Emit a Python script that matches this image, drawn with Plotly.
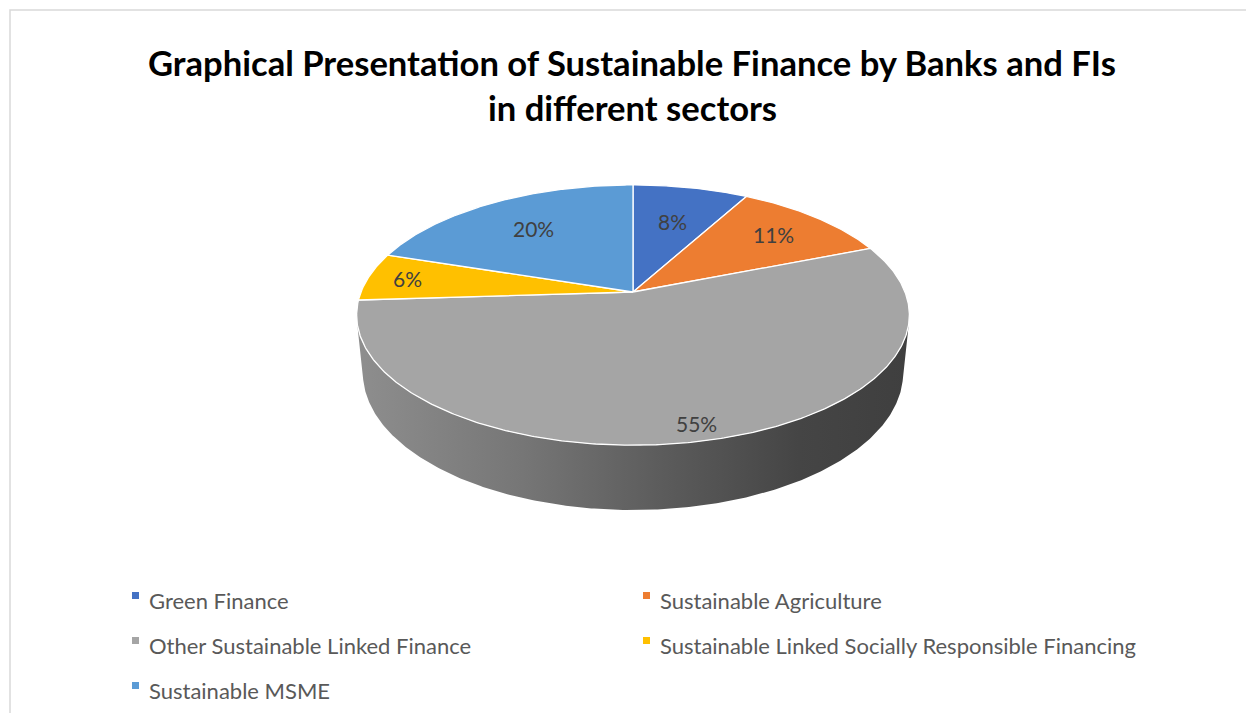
import numpy as np
import plotly.graph_objects as go

# ---- data ----
categories = [
    "Green Finance",
    "Sustainable Agriculture",
    "Other Sustainable Linked Finance",
    "Sustainable Linked Socially Responsible Financing",
    "Sustainable MSME",
]
shares = [8, 11, 55, 6, 20]
colors = ["#4472C4", "#ED7D31", "#A5A5A5", "#FFC000", "#5B9BD5"]
title_lines = [
    "Graphical Presentation of Sustainable Finance by Banks and FIs",
    "in different sectors",
]

# ---- styling / geometry of the 3-D disc ----
W, H_PX = 1246, 713
CX, CY = 633.0, 292.0          # screen position of the disc centre (top face)
FOCAL = 1360.0                 # perspective focal length (px per unit radius at unit depth)
DIST = 5.0                     # camera distance in disc radii
ELEV = np.arcsin(0.4634)       # camera elevation
THICK = 0.2416                 # disc thickness in radii
label_radius = [0.64, 0.75, 0.9, 0.85, 0.68]   # label placement along each slice's mid-angle
FONT = "Lato"


def project(phi_deg, r=1.0, h=0.0):
    """Project a point of the disc (angle clockwise from the back, radius r, depth h) to screen px."""
    phi = np.radians(phi_deg)
    X = r * np.sin(phi)
    Z = -r * np.cos(phi)          # +Z points towards the viewer
    depth = DIST + h * np.sin(ELEV) - Z * np.cos(ELEV)
    x = CX + FOCAL * X / depth
    y = CY + FOCAL * (h * np.cos(ELEV) + Z * np.sin(ELEV)) / depth
    return x, y


fig = go.Figure()

# ---- side wall (only the front part of the cylinder faces the camera) ----
lim = np.degrees(np.arccos(-1.0 / (DIST * np.cos(ELEV))))
front = np.linspace(lim, 360 - lim, 300)
tx, ty = project(front)
bx, by = project(front[::-1], h=THICK)
fig.add_trace(go.Scatter(
    x=np.concatenate([tx, bx]), y=np.concatenate([ty, by]),
    mode="lines", fill="toself", line=dict(width=0),
    fillgradient=dict(
        type="horizontal",
        colorscale=[[0, "#8e8e8e"], [0.3, "#767676"], [0.55, "#5c5c5c"],
                    [0.8, "#454545"], [1, "#3f3f3f"]],
    ),
    hoverinfo="skip", showlegend=False,
))

# ---- top face slices ----
total = sum(shares)
start = 0.0
for name, val, col, lr in zip(categories, shares, colors, label_radius):
    a0 = 360 * start / total
    a1 = 360 * (start + val) / total
    arc = np.linspace(a0, a1, max(int((a1 - a0) * 2), 8))
    ax_, ay_ = project(arc)
    xs = np.concatenate([[CX], ax_, [CX]])
    ys = np.concatenate([[CY], ay_, [CY]])
    fig.add_trace(go.Scatter(
        x=xs, y=ys, mode="lines", fill="toself", fillcolor=col,
        line=dict(color="white", width=1.3),
        name=name, hoverinfo="name", showlegend=False,
    ))
    lx, ly = project((a0 + a1) / 2, r=lr)
    fig.add_annotation(
        x=lx, y=ly, text=f"{val}%", showarrow=False,
        xanchor="center", yanchor="middle",
        font=dict(family=FONT, size=21, color="#404040"),
    )
    start += val

# ---- title ----
for i, line in enumerate(title_lines):
    fig.add_annotation(
        x=632, y=62 + 45 * i, text=f"<b>{line}</b>", showarrow=False,
        xanchor="center", yanchor="middle",
        font=dict(family=FONT, size=34.6, color="#000000"),
    )

# ---- legend (two columns) ----
col_x = [132, 643]
row_y = [596, 641, 686]
for i, (name, col) in enumerate(zip(categories, colors)):
    x0 = col_x[i % 2]
    y0 = row_y[i // 2]
    fig.add_shape(type="rect", x0=x0, x1=x0 + 7, y0=y0 - 4, y1=y0 + 3,
                  fillcolor=col, line=dict(width=0))
    fig.add_annotation(
        x=x0 + 15, y=y0 + 4, text=name, showarrow=False,
        xanchor="left", yanchor="middle",
        font=dict(family=FONT, size=22, color="#595959"),
    )

# ---- chart frame ----
fig.add_shape(type="rect", x0=10, y0=10, x1=1260, y1=730,
              line=dict(color="#d9d9d9", width=1.5), layer="below")

fig.update_layout(
    width=W, height=H_PX, autosize=False,
    margin=dict(l=0, r=0, t=0, b=0),
    paper_bgcolor="white", plot_bgcolor="white",
    xaxis=dict(range=[0, W], visible=False, fixedrange=True),
    yaxis=dict(range=[H_PX, 0], visible=False, fixedrange=True),
    showlegend=False,
)

fig.write_html("out.html")
